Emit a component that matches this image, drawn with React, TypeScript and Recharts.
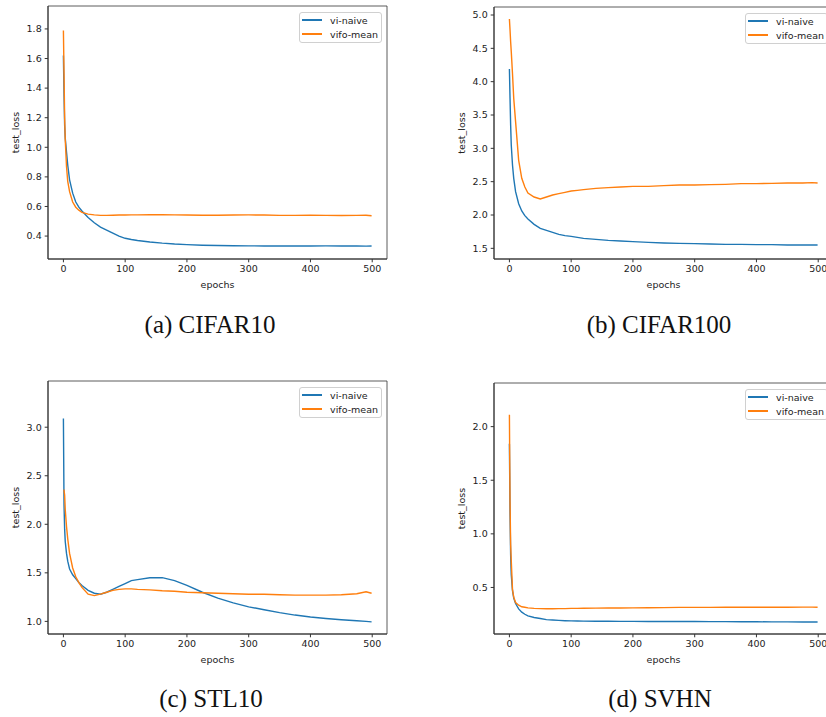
import { LineChart, Line, XAxis, YAxis, Legend, ReferenceArea } from 'recharts'

// epochs sampled along the curves (denser at the start, where they drop)
const EPOCHS = [0, 1, 2, 3, 5, 7, 10, 15, 20, 25, 30, 40, 50, 60, 70, 80, 90, 100, 110, 120, 140, 160, 180, 200, 225, 250, 275, 300, 325, 350, 375, 400, 425, 450, 475, 490, 499]

const X_TICKS = [0, 100, 200, 300, 400, 500]
const X_DOMAIN: [number, number] = [-24.95, 523.95]

// (a) CIFAR10
const CIFAR10_VI = [1.62, 1.35, 1.15, 1.06, 0.97, 0.88, 0.78, 0.69, 0.63, 0.595, 0.57, 0.525, 0.49, 0.46, 0.44, 0.42, 0.40, 0.385, 0.377, 0.37, 0.36, 0.352, 0.346, 0.342, 0.338, 0.336, 0.335, 0.334, 0.333, 0.333, 0.333, 0.333, 0.334, 0.333, 0.333, 0.332, 0.333]
const CIFAR10_VIFO = [1.79, 1.5, 1.2, 1.05, 0.87, 0.77, 0.70, 0.63, 0.595, 0.575, 0.56, 0.548, 0.543, 0.54, 0.54, 0.541, 0.542, 0.542, 0.543, 0.543, 0.544, 0.545, 0.543, 0.542, 0.541, 0.541, 0.542, 0.543, 0.542, 0.540, 0.540, 0.541, 0.540, 0.539, 0.540, 0.541, 0.537]
const CIFAR10_TICKS = [0.4, 0.6, 0.8, 1.0, 1.2, 1.4, 1.6, 1.8]

// (b) CIFAR100
const CIFAR100_VI = [4.19, 3.75, 3.35, 3.05, 2.75, 2.55, 2.35, 2.17, 2.06, 1.99, 1.94, 1.86, 1.80, 1.77, 1.74, 1.71, 1.69, 1.68, 1.665, 1.65, 1.635, 1.62, 1.61, 1.60, 1.59, 1.58, 1.575, 1.57, 1.565, 1.56, 1.56, 1.555, 1.555, 1.55, 1.55, 1.55, 1.55]
const CIFAR100_VIFO = [4.94, 4.78, 4.6, 4.45, 4.12, 3.75, 3.4, 2.82, 2.55, 2.42, 2.33, 2.27, 2.24, 2.27, 2.30, 2.32, 2.34, 2.36, 2.37, 2.38, 2.40, 2.41, 2.42, 2.43, 2.43, 2.44, 2.45, 2.45, 2.455, 2.46, 2.47, 2.47, 2.475, 2.48, 2.48, 2.485, 2.48]
const CIFAR100_TICKS = [1.5, 2.0, 2.5, 3.0, 3.5, 4.0, 4.5, 5.0]

// (c) STL10
const STL10_VI = [3.09, 2.2, 1.95, 1.82, 1.70, 1.62, 1.54, 1.48, 1.44, 1.40, 1.37, 1.32, 1.29, 1.28, 1.30, 1.33, 1.36, 1.39, 1.42, 1.43, 1.45, 1.45, 1.42, 1.37, 1.30, 1.24, 1.19, 1.15, 1.12, 1.09, 1.065, 1.045, 1.03, 1.017, 1.007, 1.0, 0.995]
const STL10_VIFO = [2.35, 2.35, 2.3, 2.15, 1.98, 1.85, 1.70, 1.55, 1.46, 1.40, 1.35, 1.28, 1.265, 1.28, 1.30, 1.32, 1.33, 1.335, 1.335, 1.33, 1.325, 1.315, 1.31, 1.30, 1.295, 1.29, 1.285, 1.28, 1.28, 1.275, 1.27, 1.27, 1.27, 1.275, 1.285, 1.305, 1.29]
const STL10_TICKS = [1.0, 1.5, 2.0, 2.5, 3.0]

// (d) SVHN
const SVHN_VI = [1.84, 1.2, 0.8, 0.62, 0.47, 0.40, 0.35, 0.30, 0.27, 0.25, 0.235, 0.22, 0.21, 0.20, 0.197, 0.193, 0.19, 0.188, 0.187, 0.186, 0.185, 0.185, 0.184, 0.184, 0.183, 0.183, 0.182, 0.182, 0.181, 0.181, 0.180, 0.180, 0.179, 0.179, 0.178, 0.178, 0.178]
const SVHN_VIFO = [2.11, 1.3, 0.9, 0.75, 0.48, 0.41, 0.36, 0.335, 0.32, 0.315, 0.31, 0.305, 0.303, 0.302, 0.302, 0.303, 0.303, 0.305, 0.305, 0.306, 0.307, 0.308, 0.309, 0.31, 0.311, 0.312, 0.314, 0.314, 0.314, 0.315, 0.315, 0.316, 0.316, 0.316, 0.317, 0.317, 0.316]
const SVHN_TICKS = [0.5, 1.0, 1.5, 2.0]

const BLUE = '#1f77b4'
const ORANGE = '#ff7f0e'
const INK = '#222'
const FONT = '"DejaVu Sans", sans-serif'
const TICK = { fill: INK, fontSize: 9.5, fontFamily: FONT }

function LegendBox({ payload }: any) {
  return (
    <div style={{
      border: '1px solid #d0d0d0', borderRadius: 3, background: 'rgba(255,255,255,0.8)',
      padding: '0 3px 1px 2px', fontFamily: FONT, fontSize: 9.5, color: INK,
    }}>
      {(payload ?? []).map((p: any) => (
        <div key={p.value} style={{ display: 'flex', alignItems: 'center', height: 14, whiteSpace: 'nowrap' }}>
          <span style={{ display: 'inline-block', width: 20, height: 2, background: p.color, marginRight: 8 }} />
          {p.value}
        </div>
      ))}
    </div>
  )
}

interface PanelProps {
  left: number
  top: number
  marginTop: number
  vi: number[]
  vifo: number[]
  yDomain: [number, number]
  yTicks: number[]
}

function Panel({ left, top, marginTop, vi, vifo, yDomain, yTicks }: PanelProps) {
  const data = EPOCHS.map((e, i) => ({ epoch: e, vi: vi[i], vifo: vifo[i] }))
  return (
    <div style={{ position: 'absolute', left, top }}>
      <LineChart width={400} height={300} data={data} margin={{ top: marginTop, right: 13, left: 0, bottom: 0 }}>
        <XAxis
          dataKey="epoch" type="number" domain={X_DOMAIN} ticks={X_TICKS} allowDataOverflow
          height={41} tick={TICK} tickSize={3.3} tickMargin={3} stroke="#333"
          label={{ value: 'epochs', position: 'insideBottom', offset: 12, fill: INK, fontSize: 9.5, fontFamily: FONT }}
        />
        <YAxis
          type="number" domain={yDomain} ticks={yTicks} allowDataOverflow
          width={48} tick={TICK} tickSize={3.3} tickMargin={3} stroke="#333"
          tickFormatter={(v: number) => v.toFixed(1)}
          label={{ value: 'test_loss', angle: -90, position: 'insideLeft', offset: 16, fill: INK, fontSize: 9.5, fontFamily: FONT, style: { textAnchor: 'middle' } }}
        />
        <ReferenceArea x1={X_DOMAIN[0]} x2={X_DOMAIN[1]} y1={yDomain[0]} y2={yDomain[1]} fill="none" stroke="#333" strokeWidth={0.8} ifOverflow="visible" />
        <Line type="linear" dataKey="vi" name="vi-naive" stroke={BLUE} strokeWidth={1.4} dot={false} isAnimationActive={false} />
        <Line type="linear" dataKey="vifo" name="vifo-mean" stroke={ORANGE} strokeWidth={1.4} dot={false} isAnimationActive={false} />
        <Legend
          layout="vertical" align="center" verticalAlign="middle"
          wrapperStyle={{ top: marginTop + 6, left: 'auto', right: 18, width: 'auto' }}
          content={LegendBox}
        />
      </LineChart>
    </div>
  )
}

function Caption({ cx, top, text }: { cx: number; top: number; text: string }) {
  return (
    <div style={{
      position: 'absolute', left: cx - 150, top, width: 300, textAlign: 'center',
      fontFamily: '"Liberation Serif", serif', fontSize: 25, lineHeight: '25px', color: '#111',
    }}>
      {text}
    </div>
  )
}

export default function App() {
  return (
    <div style={{ position: 'absolute', left: 0, top: 0, width: 826, height: 717, overflow: 'hidden', background: '#fff' }}>
      <Panel left={0} top={0} marginTop={6} vi={CIFAR10_VI} vifo={CIFAR10_VIFO} yDomain={[0.245, 1.955]} yTicks={CIFAR10_TICKS} />
      <Panel left={446} top={0} marginTop={7} vi={CIFAR100_VI} vifo={CIFAR100_VIFO} yDomain={[1.34, 5.12]} yTicks={CIFAR100_TICKS} />
      <Panel left={0} top={375} marginTop={6} vi={STL10_VI} vifo={STL10_VIFO} yDomain={[0.87, 3.476]} yTicks={STL10_TICKS} />
      <Panel left={446} top={375} marginTop={8} vi={SVHN_VI} vifo={SVHN_VIFO} yDomain={[0.066, 2.407]} yTicks={SVHN_TICKS} />
      <Caption cx={210} top={312} text="(a) CIFAR10" />
      <Caption cx={659} top={312} text="(b) CIFAR100" />
      <Caption cx={211} top={686} text="(c) STL10" />
      <Caption cx={660} top={686} text="(d) SVHN" />
    </div>
  )
}
